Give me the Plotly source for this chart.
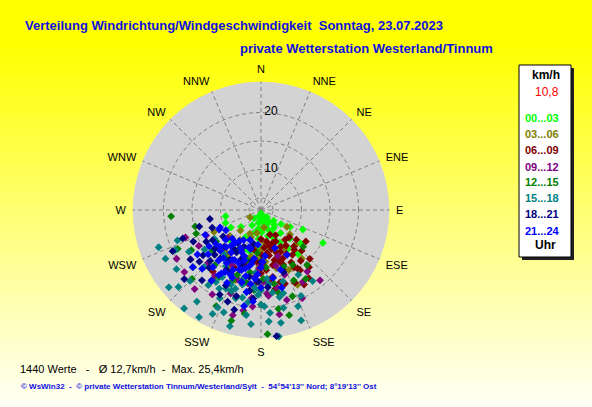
import plotly.graph_objects as go

W, H = 592, 407

title = "Verteilung Windrichtung/Windgeschwindigkeit\u00a0\u00a0Sonntag, 23.07.2023"
subtitle = "private Wetterstation Westerland/Tinnum"
footer1 = "1440 Werte\u00a0\u00a0\u00a0-\u00a0\u00a0\u00a0Ø 12,7km/h\u00a0\u00a0-\u00a0\u00a0Max. 25,4km/h"
footer2 = ("© WsWin32\u00a0\u00a0-\u00a0\u00a0© private Wetterstation Tinnum/Westerland/Sylt"
           "\u00a0\u00a0-\u00a0\u00a054°54'13'' Nord; 8°19'13'' Ost")

compass = ["N", "NNE", "NE", "ENE", "E", "ESE", "SE", "SSE",
           "S", "SSW", "SW", "WSW", "W", "WNW", "NW", "NNW"]
compass_deg = [0, 22.5, 45, 67.5, 90, 112.5, 135, 157.5,
               180, 202.5, 225, 247.5, 270, 292.5, 315, 337.5]
ring_vals = [5, 10, 15, 20]
label_vals = [10, 20]

hour_labels = ["00...03", "03...06", "06...09", "09...12",
               "12...15", "15...18", "18...21", "21...24"]
hour_colors = ["#00FF00", "#808000", "#800000", "#800080",
               "#008000", "#008080", "#000080", "#0000FF"]
legend_value = "10,8"

# wind direction (deg) / speed (km/h) per 3h block
dir_00_03 = [180, 160, 200, 140, 220, 170, 190, 150, 130, 210, 175, 160, 145, 195, 125,
             230, 165, 185, 140, 155, 120, 240, 170, 150, 135, 200, 160, 115, 250, 145,
             180, 130, 118, 260, 210, 225, 165, 140, 190, 155, 195, 175,
             168, 178, 188, 158, 148, 172, 182, 138]
spd_00_03 = [3.5, 4.0, 4.2, 4.5, 4.8, 5.0, 5.2, 5.5, 5.8, 6.0, 6.2, 6.5, 6.8, 7.0, 7.2,
             7.5, 7.6, 8.0, 8.2, 8.5, 8.8, 9.0, 9.2, 9.5, 10.0, 10.2, 10.5, 11.0, 9.5, 11.2,
             11.5, 12.0, 15.2, 9.2, 8.4, 10.5, 12.5, 13.0, 9.8, 7.4, 10.5, 4.6,
             5.8, 6.8, 6.2, 7.8, 5.2, 8.8, 9.4, 6.4]

dir_03_06 = [237, 123, 215, 154, 170, 190, 200, 160, 180, 205, 145, 175, 220, 195, 165,
             150, 185, 210, 230, 135, 170, 200, 155, 190, 225, 175, 160, 215, 140, 180,
             245, 130, 205, 185, 165, 172, 182, 158, 192, 168, 148]
spd_03_06 = [5.2, 8.3, 9.3, 17.5, 6.0, 7.0, 8.0, 9.0, 10.0, 11.0, 10.5, 12.0, 12.5, 13.0, 13.5,
             12.0, 14.0, 14.5, 10.0, 11.5, 15.0, 16.0, 14.5, 9.5, 8.0, 8.5, 11.0, 13.0, 14.0, 16.5,
             12.0, 9.5, 7.5, 11.5, 10.0, 10.6, 12.8, 12.4, 11.2, 9.2, 10.8]

dir_06_09 = [141, 147, 173, 179, 218, 150, 160, 170, 155, 165, 145, 135, 175, 160, 150,
             140, 170, 185, 190, 155, 165, 180, 145, 130, 160, 175, 140, 195, 150, 170,
             185, 200, 135, 155, 165, 145, 125, 180, 205, 160, 150, 170,
             138, 152, 168, 158, 148, 172, 162, 142, 156, 178, 166, 134, 150, 160, 175]
spd_06_09 = [9.6, 15.5, 15.3, 10.8, 16.6, 8.0, 9.0, 8.5, 11.0, 12.0, 12.5, 13.0, 13.5, 14.0, 14.5,
             16.0, 17.0, 12.0, 10.0, 17.0, 16.0, 14.0, 10.5, 11.0, 7.5, 9.5, 12.0, 13.0, 18.0, 11.0,
             16.0, 11.5, 15.0, 9.0, 10.0, 17.5, 12.5, 8.0, 14.0, 12.5, 13.5, 14.8,
             11.5, 10.2, 12.8, 13.2, 15.0, 10.5, 16.5, 14.2, 12.2, 12.5, 9.3, 9.8, 11.8, 10.8, 15.8]

dir_09_12 = [231, 240, 143, 164, 185, 200, 215, 225, 190, 175, 160, 150, 210, 235, 245,
             220, 195, 170, 155, 180, 205, 230, 165, 250, 140, 185, 200, 215, 175, 190,
             225, 160, 210, 240, 195, 178, 188, 168, 198, 208, 182, 186, 196, 176]
spd_09_12 = [20.2, 15.5, 16.4, 19.3, 19.9, 14.0, 17.0, 13.0, 16.0, 18.0, 15.0, 17.5, 20.0, 18.0, 13.5,
             21.0, 22.0, 21.5, 20.0, 12.5, 11.0, 10.5, 13.0, 17.0, 19.0, 14.5, 18.5, 12.0, 15.5, 20.8,
             16.0, 11.5, 15.0, 20.0, 9.5, 15.5, 17.2, 16.8, 15.8, 13.8, 13.2, 18.4, 18.8, 17.6]

dir_12_15 = [266, 256, 177, 189, 147, 131, 200, 215, 230, 170, 160, 185, 195, 210, 240,
             225, 175, 150, 205, 180, 165, 220, 235, 190, 155, 245, 200, 185, 215, 170,
             140, 250, 195, 230, 178, 168, 192, 202, 158, 212]
spd_12_15 = [18.7, 14.8, 24.7, 21.3, 17.3, 12.7, 15.0, 18.0, 14.0, 16.0, 19.0, 17.0, 12.0, 11.0, 17.0,
             20.0, 13.0, 14.0, 21.5, 19.5, 22.0, 15.5, 12.5, 14.0, 16.5, 19.0, 18.0, 10.5, 13.5, 20.5,
             15.5, 15.0, 23.0, 18.5, 15.0, 17.8, 15.8, 16.2, 13.6, 16.8]

dir_15_18 = [243, 227, 210, 204, 167, 159, 172, 144, 200, 215, 220, 230, 235, 190, 185,
             180, 195, 175, 165, 155, 150, 205, 225, 240, 215, 200, 220, 210, 190, 185,
             170, 195, 230, 245, 235, 250, 160, 180, 205, 212, 225, 218, 175, 238, 250,
             200, 163, 188, 182, 192, 172, 202, 186, 178, 196, 168, 208, 176,
             184, 194, 204, 174, 188, 198, 212]
spd_15_18 = [21.7, 22.7, 24.6, 21.6, 20.5, 21.0, 25.3, 18.3, 18.0, 19.0, 16.0, 18.5, 15.0, 20.0, 23.0,
             17.0, 15.5, 21.0, 18.0, 19.5, 16.0, 23.0, 20.5, 17.5, 22.5, 13.5, 13.0, 16.5, 17.5, 14.0,
             23.0, 24.0, 24.0, 19.5, 21.0, 22.0, 23.5, 19.5, 20.0, 14.5, 17.0, 24.8, 15.0, 12.5, 18.5,
             22.0, 16.0, 21.5, 17.8, 18.6, 17.5, 17.0, 16.2, 19.8, 19.0, 18.5, 18.5, 22.5,
             16.8, 16.4, 18.0, 16.0, 19.2, 17.4, 17.8]

dir_18_21 = [255, 238, 215, 225, 245, 200, 210, 230, 220, 235, 250, 205, 195, 240, 225,
             215, 190, 200, 230, 210, 245, 185, 220, 175, 235, 260, 205, 195, 228, 180,
             160, 250, 192, 173, 198, 212, 222, 206, 190, 226, 216, 182, 202, 232,
             188, 196, 206]
spd_18_21 = [14.1, 12.9, 10.0, 12.0, 16.0, 13.0, 15.0, 17.0, 19.0, 11.0, 12.0, 17.5, 16.0, 14.0, 15.5,
             18.0, 12.0, 20.0, 13.5, 11.5, 20.0, 18.5, 14.0, 16.5, 18.0, 12.0, 10.0, 21.0, 21.0, 12.0,
             14.5, 17.5, 9.0, 25.2, 13.8, 13.2, 16.5, 15.2, 14.8, 14.2, 11.2, 15.5, 12.2, 15.8,
             17.2, 18.6, 19.4]

dir_21_24 = [162, 185, 195, 205, 215, 225, 235, 190, 200, 210, 220, 230, 205, 180, 195,
             205, 215, 225, 198, 185, 200, 210, 220, 230, 190, 175, 170, 235, 212, 200,
             215, 185, 225, 240, 195, 205, 220, 180, 160, 150, 210, 230, 245, 190, 192,
             165, 246, 247, 188, 198, 208, 218, 228, 193, 203, 213, 223, 183, 198, 208,
             218, 188, 233, 203, 178, 213]
spd_21_24 = [13.9, 9.0, 10.0, 11.0, 12.0, 13.0, 14.0, 12.5, 14.0, 15.5, 16.0, 11.0, 15.5, 13.0, 16.0,
             17.0, 9.5, 10.0, 14.0, 15.0, 11.5, 13.0, 14.5, 15.0, 17.5, 11.0, 15.0, 16.5, 16.0, 8.5,
             18.0, 19.0, 17.5, 10.0, 13.5, 14.5, 11.0, 16.5, 10.0, 12.0, 9.0, 18.5, 11.0, 20.0, 13.0,
             17.0, 13.6, 10.7, 11.5, 12.2, 12.8, 13.6, 12.5, 14.8, 15.8, 16.5, 11.8, 14.2, 9.8, 10.5,
             10.2, 16.0, 12.8, 13.0, 12.0, 14.0]

all_dirs = [dir_00_03, dir_03_06, dir_06_09, dir_09_12,
            dir_12_15, dir_15_18, dir_18_21, dir_21_24]
all_spds = [spd_00_03, spd_03_06, spd_06_09, spd_09_12,
            spd_12_15, spd_15_18, spd_18_21, spd_21_24]


def px(x):
    return x / W


def py(y):
    return 1 - y / H


fig = go.Figure()

for lab, col, d, s in zip(hour_labels, hour_colors, all_dirs, all_spds):
    fig.add_trace(go.Scatterpolar(
        r=s, theta=d, mode="markers", name=lab, showlegend=False, hoverinfo="skip",
        marker=dict(symbol="diamond", size=6, color=col, line=dict(width=0))))

# ring labels next to the north spoke
fig.add_trace(go.Scatterpolar(
    r=label_vals, theta=[0] * len(label_vals), mode="text",
    text=["\u00a0" + str(v) for v in label_vals], textposition="middle right",
    textfont=dict(family="Liberation Sans", size=12, color="black"),
    showlegend=False, hoverinfo="skip"))

# yellow background fading downwards
shapes = []
bands = 60
for i in range(bands):
    y0 = i * H / bands
    y1 = (i + 1) * H / bands
    t = min(max((y0 - 40) / 360, 0), 1)
    b = int(245 * t)
    shapes.append(dict(type="rect", xref="paper", yref="paper", layer="below",
                       x0=0, x1=1, y0=py(y1), y1=py(y0) + 0.002,
                       fillcolor=f"rgb(255,255,{b})", line=dict(width=0)))

# legend box with shadow
shapes.append(dict(type="rect", xref="paper", yref="paper",
                   x0=px(522), x1=px(574), y0=py(260), y1=py(68),
                   fillcolor="#202020", line=dict(width=0)))
shapes.append(dict(type="rect", xref="paper", yref="paper",
                   x0=px(519), x1=px(571), y0=py(257), y1=py(65),
                   fillcolor="white", line=dict(color="black", width=1)))

blue = "#1010E0"
ann = []
ann.append(dict(text=title, x=px(23), y=py(25), xref="paper", yref="paper",
                xanchor="left", yanchor="middle", showarrow=False,
                font=dict(family="Liberation Sans", size=13, color=blue, weight="bold")))
ann.append(dict(text=subtitle, x=px(238), y=py(49), xref="paper", yref="paper",
                xanchor="left", yanchor="middle", showarrow=False,
                font=dict(family="Liberation Sans", size=13, color=blue, weight="bold")))
ann.append(dict(text=footer1, x=px(18), y=py(369), xref="paper", yref="paper",
                xanchor="left", yanchor="middle", showarrow=False,
                font=dict(family="Liberation Sans", size=11, color="black")))
ann.append(dict(text=footer2, x=px(19), y=py(386), xref="paper", yref="paper",
                xanchor="left", yanchor="middle", showarrow=False,
                font=dict(family="Liberation Sans", size=8, color=blue, weight="bold")))

ann.append(dict(text="km/h", x=px(546), y=py(75), xref="paper", yref="paper",
                xanchor="center", yanchor="middle", showarrow=False,
                font=dict(family="Liberation Sans", size=12, color="black", weight="bold")))
ann.append(dict(text=legend_value, x=px(561), y=py(92), xref="paper", yref="paper",
                xanchor="right", yanchor="middle", showarrow=False,
                font=dict(family="Liberation Sans", size=12, color="#FF0000")))
leg_y = [118, 134, 150, 167, 182, 198, 214, 231]
for lab, col, yy in zip(hour_labels, hour_colors, leg_y):
    ann.append(dict(text=lab, x=px(542), y=py(yy), xref="paper", yref="paper",
                    xanchor="center", yanchor="middle", showarrow=False,
                    font=dict(family="Liberation Sans", size=11, color=col, weight="bold")))
ann.append(dict(text="Uhr", x=px(545), y=py(245), xref="paper", yref="paper",
                xanchor="center", yanchor="middle", showarrow=False,
                font=dict(family="Liberation Sans", size=12, color="black", weight="bold")))

cx, cy, rad = 261, 210, 128.3

fig.update_layout(
    width=W, height=H,
    margin=dict(l=0, r=0, t=0, b=0),
    paper_bgcolor="#FFFFF0",
    shapes=shapes,
    annotations=ann,
    polar=dict(
        domain=dict(x=[px(cx - rad), px(cx + rad)], y=[py(cy + rad), py(cy - rad)]),
        bgcolor="#D3D3D3",
        angularaxis=dict(
            rotation=90, direction="clockwise",
            tickmode="array", tickvals=compass_deg, ticktext=compass,
            showline=False, ticks="outside", ticklen=4, tickcolor="rgba(0,0,0,0)",
            gridcolor="#808080", griddash="4px,3px", gridwidth=1,
            tickfont=dict(family="Liberation Sans", size=11, color="black")),
        radialaxis=dict(
            range=[2.9, 25.4], angle=90,
            tickmode="array", tickvals=ring_vals, showticklabels=False,
            showline=False, ticks="",
            gridcolor="#808080", griddash="4px,3px", gridwidth=1),
    ),
)

fig.write_html("out.html", config={"displayModeBar": False},
               post_script="document.body.style.margin='0';document.body.style.overflow='hidden';")
